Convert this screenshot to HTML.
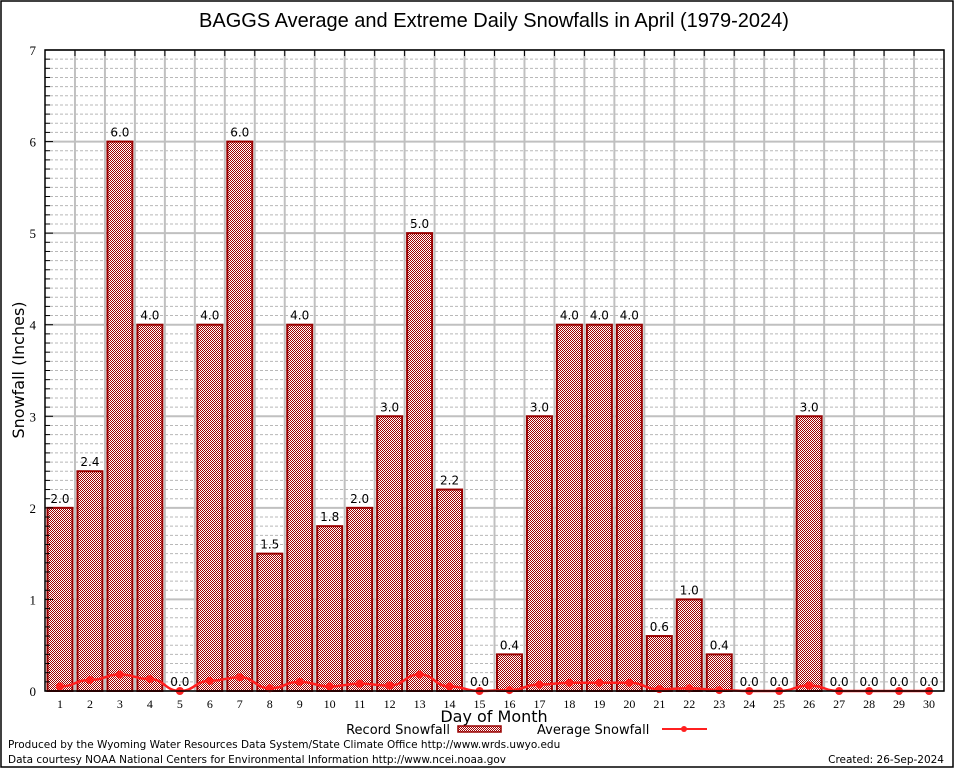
<!DOCTYPE html>
<html><head><meta charset="utf-8"><style>
body{margin:0;background:#fff;}
svg{display:block;font-family:"DejaVu Sans","Liberation Sans",sans-serif;}
</style></head><body>
<svg id="c" width="954" height="768" viewBox="0 0 954 768">
<defs>
<pattern id="chk" width="2" height="2" patternUnits="userSpaceOnUse">
<rect width="2" height="2" fill="#fff"/><rect width="1" height="1" fill="#a00000"/><rect x="1" y="1" width="1" height="1" fill="#a00000"/>
</pattern>
</defs>
<rect x="1" y="1" width="952" height="766" fill="#fff" stroke="#000" stroke-width="1.5"/>
<text x="494" y="27" font-size="20" text-anchor="middle" font-family="Liberation Sans, sans-serif">BAGGS Average and Extreme Daily Snowfalls in April (1979-2024)</text>
<g id="grid"></g>
<g id="bars"></g>
<g id="avg"></g>
<g id="axes"></g>
<text x="24" y="370" font-size="16" text-anchor="middle" transform="rotate(-90 24 370)">Snowfall (Inches)</text>
<text x="494" y="722" font-size="16" text-anchor="middle">Day of Month</text>
<g>
<text x="450" y="734" font-size="13" text-anchor="end">Record Snowfall</text>
<rect x="458" y="726" width="43" height="6" fill="url(#chk)" stroke="#990000" stroke-width="1.5"/>
<text x="537" y="734" font-size="13">Average Snowfall</text>
<line x1="662" y1="729" x2="707" y2="729" stroke="#ff2020" stroke-width="2"/>
<circle cx="684" cy="729" r="3" fill="#ff2020"/>
</g>
<text x="8" y="748" font-size="10.5">Produced by the Wyoming Water Resources Data System/State Climate Office http://www.wrds.uwyo.edu</text>
<text x="8" y="763" font-size="10.5">Data courtesy NOAA National Centers for Environmental Information http://www.ncei.noaa.gov</text>
<text x="944" y="763" font-size="10.5" text-anchor="end">Created: 26-Sep-2024</text>
</svg>
<script>
const days=[1,2,3,4,5,6,7,8,9,10,11,12,13,14,15,16,17,18,19,20,21,22,23,24,25,26,27,28,29,30];
const recordValues=[2.0,2.4,6.0,4.0,0.0,4.0,6.0,1.5,4.0,1.8,2.0,3.0,5.0,2.2,0.0,0.4,3.0,4.0,4.0,4.0,0.6,1.0,0.4,0.0,0.0,3.0,0.0,0.0,0.0,0.0];
const averageValues=[0.05,0.12,0.18,0.13,0.0,0.11,0.15,0.03,0.10,0.05,0.08,0.06,0.18,0.05,0.0,0.01,0.07,0.09,0.09,0.09,0.02,0.03,0.01,0.0,0.0,0.06,0.0,0.0,0.0,0.0];
const yTicks=[0,1,2,3,4,5,6,7];
const NS="http://www.w3.org/2000/svg";
const L=45,R=944,T=50,B=691,yMax=7;
const slot=(R-L)/days.length;
const y=v=>B-(v/yMax)*(B-T);
const xc=i=>L+slot*(i+0.5);
function mk(tag,attrs,parent){const e=document.createElementNS(NS,tag);for(const k in attrs)e.setAttribute(k,attrs[k]);parent.appendChild(e);return e;}
const grid=document.getElementById('grid'),bars=document.getElementById('bars'),avg=document.getElementById('avg'),axes=document.getElementById('axes');
for(let v=0;v<yMax;v+=1){for(let m=1;m<10;m++){const yy=y(v+m/10);
const ln=mk('line',{x1:L,x2:R,y1:yy,y2:yy,stroke:'#b8b8b8','stroke-dasharray':'3,2','stroke-width':1},grid);


const t=mk('line',{x1:L,x2:L+5,y1:yy,y2:yy,stroke:'#000'},axes);

}}
yTicks.forEach(v=>{const yy=y(v);
const ln=mk('line',{x1:L,x2:R,y1:yy,y2:yy,stroke:'#c0c0c0','stroke-width':2},grid);


const tk=mk('line',{x1:L,x2:L+8,y1:yy,y2:yy,stroke:'#000'},axes);


const t=mk('text',{x:36,y:yy+5,'font-size':13,'text-anchor':'end','font-family':'Liberation Serif, serif'},axes);t.textContent=v;

});
for(let i=1;i<days.length;i++){const xx=L+slot*i;
const ln=mk('line',{x1:xx,x2:xx,y1:T,y2:B,stroke:'#c0c0c0','stroke-width':2},grid);


const tk=mk('line',{x1:xx,x2:xx,y1:T,y2:T+6,stroke:'#000'},axes);

}
days.forEach((d,i)=>{const v=recordValues[i];const x0=L+slot*i+2.5,w=slot-5;
if(v>0){const r=mk('rect',{x:x0,y:y(v),width:w,height:B-y(v),fill:'url(#chk)',stroke:'#990000','stroke-width':2},bars);

}
const t=mk('text',{x:xc(i),y:y(v)-5,'font-size':12,'text-anchor':'middle'},bars);t.textContent=v.toFixed(1);


const xl=mk('text',{x:xc(i),y:B+17,'font-size':12,'text-anchor':'middle','font-family':'Liberation Serif, serif'},axes);xl.textContent=d;

});
let dstr='';averageValues.forEach((v,i)=>{const px=xc(i),py=y(v);
if(i===0)dstr='M'+px+','+py;else{const pp=xc(i-1),pv=y(averageValues[i-1]);const mx=(pp+px)/2;dstr+=' C'+mx+','+pv+' '+mx+','+py+' '+px+','+py;}});
const p=mk('path',{d:dstr,fill:'none',stroke:'#ff2020','stroke-width':2.5},avg);


averageValues.forEach((v,i)=>{const c=mk('circle',{cx:xc(i),cy:y(v),r:4,fill:'#ff2020'},avg);

});
const fr=mk('rect',{x:L,y:T,width:R-L,height:B-T,fill:'none',stroke:'#000','stroke-width':1.5},axes);


</script>
</body></html>
